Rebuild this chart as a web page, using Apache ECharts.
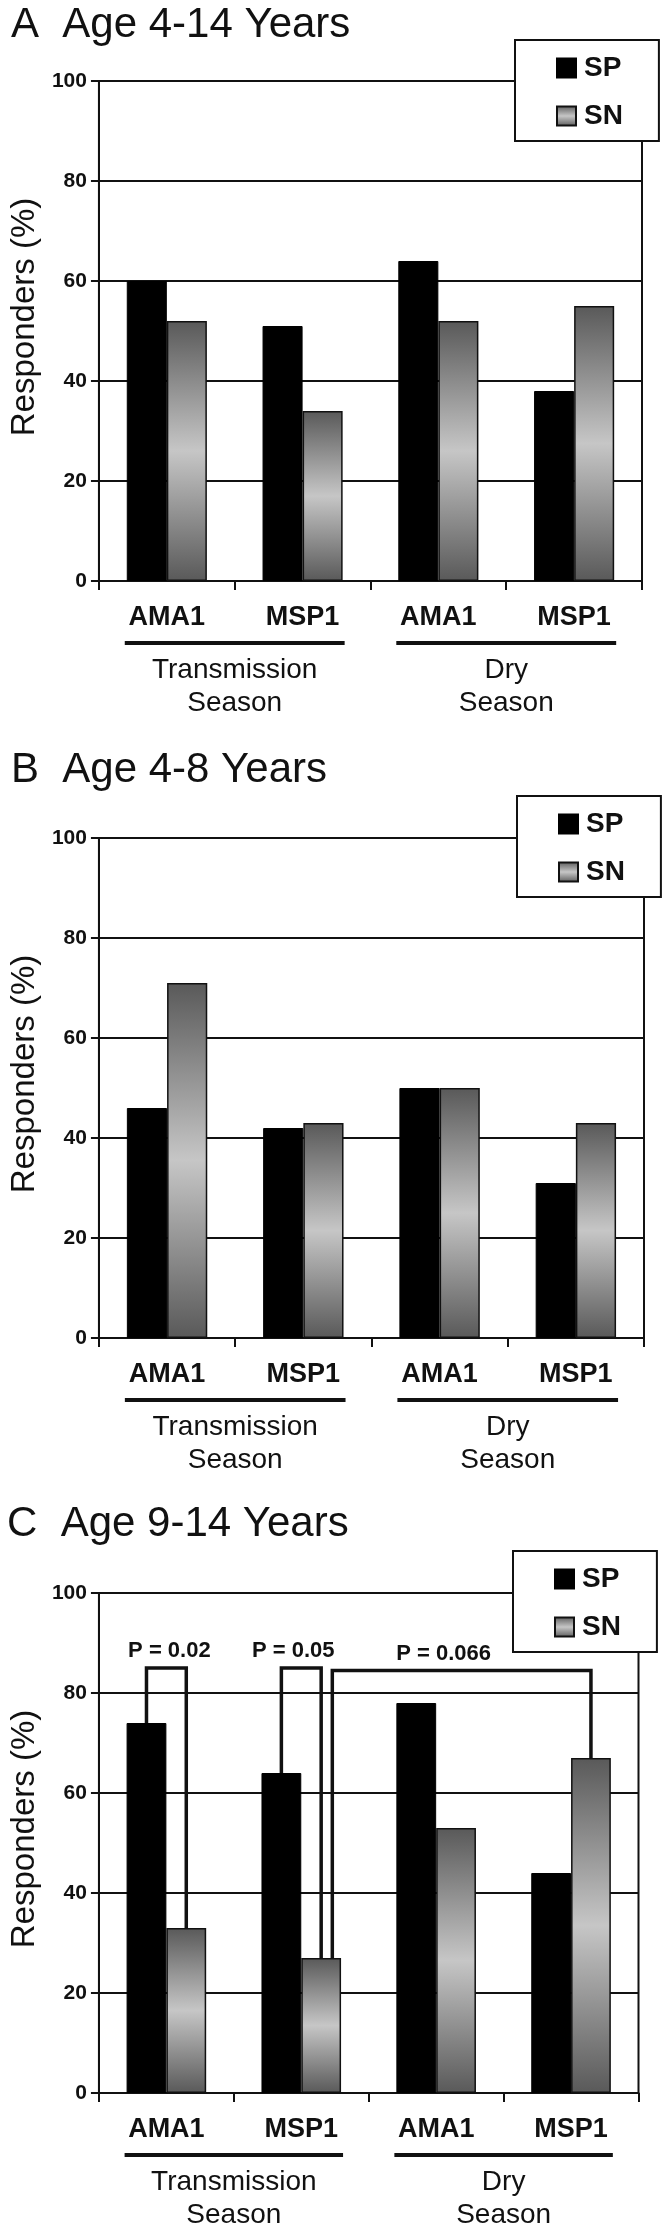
<!DOCTYPE html>
<html>
<head>
<meta charset="utf-8">
<script src="https://cdn.jsdelivr.net/npm/echarts@6/dist/echarts.min.js"></script>
<style>
html,body{margin:0;padding:0;background:#fff;}
#chart{width:671px;height:2233px;}
</style>
</head>
<body>
<div id="chart"></div>
<script>
// ---- data ----
const categories = ['AMA1', 'MSP1', 'AMA1', 'MSP1'];
const seasonNames = ['Transmission\nSeason', 'Dry\nSeason'];
const seasonSpans = [[0, 1], [2, 3]];
const panelTitles = ['A  Age 4-14 Years', 'B  Age 4-8 Years', 'C  Age 9-14 Years'];
const seriesNames = ['SP', 'SN'];
const yAxisName = 'Responders (%)';
const yMin = 0, yMax = 100, yStep = 20;

const spA = [60, 51, 64, 38];
const snA = [52, 34, 52, 55];
const spB = [46, 42, 50, 31];
const snB = [71, 43, 50, 43];
const spC = [74, 64, 78, 44];
const snC = [33, 27, 53, 67];

// significance brackets (panel C): [categoryIndex, seriesIndex]
const pLabels = ['P = 0.02', 'P = 0.05', 'P = 0.066'];
const pFrom = [[0, 0], [1, 0], [1, 1]];
const pTo = [[0, 1], [1, 1], [3, 1]];
const pTop = [85, 85, 84.5];

// ---- layout / style ----
const FONT = "'Liberation Sans', Arial, Helvetica, sans-serif";
const panels = [
  {sp: spA, sn: snA, left: 93, right: 642, top: 81, titleTop: 4, titleLeft: 11, legendLeft: 515, legendTop: 40},
  {sp: spB, sn: snB, left: 96, right: 644, top: 838, titleTop: 749, titleLeft: 11, legendLeft: 517, legendTop: 796},
  {sp: spC, sn: snC, left: 89, right: 638.5, top: 1593, titleTop: 1503, titleLeft: 7, legendLeft: 513, legendTop: 1551}
];
const PLOT_H = 500;
const CAT_GAP = 0.41;

const chart = echarts.init(document.getElementById('chart'), null, {renderer: 'canvas'});

const snGradient = new echarts.graphic.LinearGradient(0, 0, 0, 1, [
  {offset: 0, color: '#595959'},
  {offset: 0.5, color: '#c6c6c6'},
  {offset: 1, color: '#595959'}
]);

function barHalf(api) {
  const band = api.size([1, 0])[0];
  return band * (1 - CAT_GAP) / 2;
}
function barCenter(api, cat, ser) {
  const c = api.coord([cat, 0])[0];
  const bw = barHalf(api);
  return c + (ser === 0 ? -bw / 2 : bw / 2);
}

const option = {
  backgroundColor: '#fff',
  animation: false,
  title: [], legend: [], grid: [], xAxis: [], yAxis: [], series: []
};

panels.forEach((p, i) => {
  option.title.push({
    text: panelTitles[i], left: p.titleLeft, top: p.titleTop, padding: 0,
    textStyle: {fontFamily: FONT, fontSize: 42, fontWeight: 'normal', color: '#111', lineHeight: 42}
  });
  option.grid.push({
    left: p.left, top: p.top, width: p.right - p.left, height: PLOT_H,
    show: true, borderColor: '#111', borderWidth: 2, backgroundColor: 'transparent'
  });
  option.legend.push({
    data: seriesNames, orient: 'vertical', left: p.legendLeft, top: p.legendTop,
    padding: [13, 36, 10, 41], itemGap: 18, itemWidth: 19, itemHeight: 19,
    backgroundColor: '#fff', borderColor: '#111', borderWidth: 2, borderRadius: 0,
    icon: 'rect', selectedMode: false, z: 10,
    textStyle: {fontFamily: FONT, fontSize: 28, fontWeight: 'bold', color: '#111', lineHeight: 30, padding: [0, 0, 0, 3]}
  });
  option.xAxis.push({
    type: 'category', gridIndex: i, data: categories, boundaryGap: true,
    axisLine: {show: true, lineStyle: {color: '#111', width: 2}},
    axisTick: {show: true, length: 9, lineStyle: {color: '#111', width: 2}},
    axisLabel: {fontFamily: FONT, fontSize: 27, fontWeight: 'bold', color: '#111', margin: 23, lineHeight: 27},
    splitLine: {show: false}
  });
  option.yAxis.push({
    type: 'value', gridIndex: i, min: yMin, max: yMax, interval: yStep,
    name: yAxisName, nameLocation: 'middle', nameGap: p.left - 23 - 16.5,
    nameTextStyle: {fontFamily: FONT, fontSize: 33, color: '#111', lineHeight: 33, padding: [0, 0, 0, 28]},
    axisLine: {show: true, lineStyle: {color: '#111', width: 2}},
    axisTick: {show: true, length: 8, lineStyle: {color: '#111', width: 2}},
    axisLabel: {fontFamily: FONT, fontSize: 21, fontWeight: 'bold', color: '#111', margin: 12},
    splitLine: {show: true, lineStyle: {color: '#111', width: 2}}
  });
  option.series.push({
    name: 'SP', type: 'bar', xAxisIndex: i, yAxisIndex: i, data: p.sp,
    barGap: '0%', barCategoryGap: (CAT_GAP * 100) + '%',
    itemStyle: {color: '#000', borderColor: '#000', borderWidth: 1}
  });
  option.series.push({
    name: 'SN', type: 'bar', xAxisIndex: i, yAxisIndex: i, data: p.sn,
    barGap: '0%', barCategoryGap: (CAT_GAP * 100) + '%',
    itemStyle: {color: snGradient, borderColor: '#111', borderWidth: 1.5}
  });
  // group underline + season labels
  option.series.push({
    type: 'custom', xAxisIndex: i, yAxisIndex: i, clip: false, silent: true, z: 5,
    encode: {x: 0, y: 2},
    data: seasonSpans.map(s => [s[0], s[1], 0]),
    renderItem: function (params, api) {
      const a = api.value(0), b = api.value(1);
      const bw = barHalf(api);
      const x1 = api.coord([a, 0])[0] - bw - 2;
      const x2 = api.coord([b, 0])[0] + bw + 2;
      const y0 = api.coord([a, 0])[1];
      return {
        type: 'group',
        children: [
          {type: 'rect', shape: {x: x1, y: y0 + 60, width: x2 - x1, height: 4}, style: {fill: '#111'}},
          {type: 'text', x: (x1 + x2) / 2, y: y0 + 72.5,
            style: {text: seasonNames[params.dataIndex], fill: '#111', align: 'center', verticalAlign: 'top',
              fontFamily: FONT, fontSize: 28, lineHeight: 33}}
        ]
      };
    }
  });
});

// significance brackets on panel C
const cSeries = [panels[2].sp, panels[2].sn];
option.series.push({
  type: 'custom', xAxisIndex: 2, yAxisIndex: 2, clip: false, silent: true, z: 6,
  encode: {x: 0, y: 4},
  data: pFrom.map((f, k) => [f[0], f[1], pTo[k][0], pTo[k][1], pTop[k]]),
  renderItem: function (params, api) {
    const k = params.dataIndex;
    const fc = api.value(0), fs = api.value(1), tc = api.value(2), ts = api.value(3), top = api.value(4);
    const bw = barHalf(api);
    let x1 = barCenter(api, fc, fs);
    if (k === 2) x1 += bw * 0.28;
    const x2 = barCenter(api, tc, ts);
    const y1 = api.coord([fc, cSeries[fs][fc]])[1];
    const y2 = api.coord([tc, cSeries[ts][tc]])[1];
    const yt = api.coord([fc, top])[1];
    const dx = [3, -8, -18][k];
    return {
      type: 'group',
      children: [
        {type: 'polyline', shape: {points: [[x1, y1], [x1, yt], [x2, yt], [x2, y2]]},
          style: {stroke: '#111', lineWidth: 3.5, fill: null, lineJoin: 'miter'}},
        {type: 'text', x: (x1 + x2) / 2 + dx, y: yt - 17,
          style: {text: pLabels[k], fill: '#111', align: 'center', verticalAlign: 'middle',
            fontFamily: FONT, fontSize: 22, fontWeight: 'bold'}}
      ]
    };
  }
});

chart.setOption(option);
</script>
</body>
</html>
